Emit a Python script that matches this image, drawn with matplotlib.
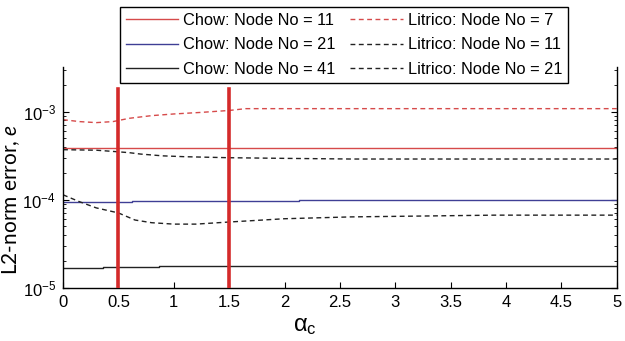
import matplotlib
matplotlib.use("Agg")
import matplotlib.pyplot as plt
from matplotlib.ticker import FormatStrFormatter, LogLocator, NullFormatter

# fonts: Arial-like for ticks/legend, mathtext follows it
plt.rcParams['font.family'] = ['Liberation Sans', 'DejaVu Sans']
plt.rcParams['mathtext.fontset'] = 'custom'
plt.rcParams['mathtext.rm'] = 'Liberation Sans'
plt.rcParams['mathtext.it'] = 'Lato:italic'

# Chow results (piecewise constant in alpha_c)
chow11_x = [0, 5]
chow11_y = [3.9e-4, 3.9e-4]
chow21_x = [0, 0.62, 2.13, 5]
chow21_y = [9.5e-5, 9.8e-5, 1.0e-4, 1.0e-4]
chow41_x = [0, 0.36, 0.87, 5]
chow41_y = [1.69e-5, 1.73e-5, 1.78e-5, 1.78e-5]

# Litrico results
lit7_x = [0, 0.15, 0.3, 0.45, 0.6, 0.8, 1.0, 1.25, 1.5, 1.65, 2.0, 3.0, 4.0, 5.0]
lit7_y = [8.1e-4, 7.7e-4, 7.5e-4, 7.7e-4, 8.4e-4, 9.0e-4, 9.4e-4, 9.8e-4,
          1.03e-3, 1.08e-3, 1.08e-3, 1.08e-3, 1.08e-3, 1.08e-3]
lit11_x = [0, 0.3, 0.5, 0.6, 0.7, 0.9, 1.1, 1.5, 2.0, 2.6, 3.0, 4.0, 5.0]
lit11_y = [3.7e-4, 3.65e-4, 3.5e-4, 3.42e-4, 3.3e-4, 3.15e-4, 3.08e-4, 3.0e-4,
           2.95e-4, 2.9e-4, 2.9e-4, 2.9e-4, 2.9e-4]
lit21_x = [0, 0.15, 0.3, 0.5, 0.65, 0.8, 1.0, 1.2, 1.5, 2.0, 2.6, 3.9, 5.0]
lit21_y = [1.14e-4, 9.5e-5, 8.1e-5, 7.1e-5, 5.9e-5, 5.5e-5, 5.3e-5, 5.3e-5,
           5.6e-5, 6.1e-5, 6.4e-5, 6.7e-5, 6.7e-5]

# marked alpha_c values
marks_x = [0.5, 1.5]
marks_top = 1.8e-3

xticks = [0, 0.5, 1, 1.5, 2, 2.5, 3, 3.5, 4, 4.5, 5]

red = '#d64a4a'
blue = '#3f3f95'
black = '#222222'
dash = (0, (3.5, 2.5))

fig = plt.figure(figsize=(6.25, 3.41), dpi=100)
ax = fig.add_axes([0.1008, 0.1554, 0.886, 0.648])

h1, = ax.plot(chow11_x, chow11_y, color=red, lw=1.0, drawstyle='steps-post')
h2, = ax.plot(chow21_x, chow21_y, color=blue, lw=1.0, drawstyle='steps-post')
h3, = ax.plot(chow41_x, chow41_y, color=black, lw=1.0, drawstyle='steps-post')
h4, = ax.plot(lit7_x, lit7_y, color=red, lw=1.0, ls=dash)
h5, = ax.plot(lit11_x, lit11_y, color=black, lw=1.0, ls=dash)
h6, = ax.plot(lit21_x, lit21_y, color=black, lw=1.0, ls=dash)

for xm in marks_x:
    ax.plot([xm, xm], [1e-5, marks_top], color='#d42a2a', lw=2.6, zorder=5)

ax.set_yscale('log')
ax.set_xlim(0, 5)
ax.set_ylim(1e-5, 3.2e-3)
ax.set_xticks(xticks)
ax.xaxis.set_major_formatter(FormatStrFormatter('%g'))
ax.yaxis.set_major_locator(LogLocator(base=10))
ax.yaxis.set_minor_locator(LogLocator(base=10, subs=range(2, 10)))
ax.yaxis.set_minor_formatter(NullFormatter())

ax.spines['top'].set_visible(False)
for s in ['left', 'right', 'bottom']:
    ax.spines[s].set_linewidth(1.0)
ax.tick_params(which='both', direction='in', right=True, top=False, labelsize=12)
ax.tick_params(which='major', length=4, pad=5)
ax.tick_params(which='minor', length=2.5)

ax.set_ylabel('L2-norm error, $\\it{e}$', fontsize=15, family='Lato')
ax.yaxis.set_label_coords(-0.074, 0.40)
ax.set_xlabel('$\\mathregular{\\alpha_c}$', fontsize=17)
ax.xaxis.set_label_coords(0.437, -0.12)

labels = ['Chow: Node No = 11', 'Chow: Node No = 21', 'Chow: Node No = 41',
          'Litrico: Node No = 7', 'Litrico: Node No = 11', 'Litrico: Node No = 21']
leg = fig.legend([h1, h2, h3, h4, h5, h6], labels, ncol=2, loc='upper center',
                 bbox_to_anchor=(0.5504, 0.98), fontsize=11.8, fancybox=False,
                 edgecolor='black', framealpha=1, borderpad=0.35,
                 labelspacing=0.6, handlelength=3.2, handletextpad=0.3,
                 columnspacing=0.9, borderaxespad=0)
leg.get_frame().set_linewidth(1.0)

fig.savefig('out.png', dpi=100)
